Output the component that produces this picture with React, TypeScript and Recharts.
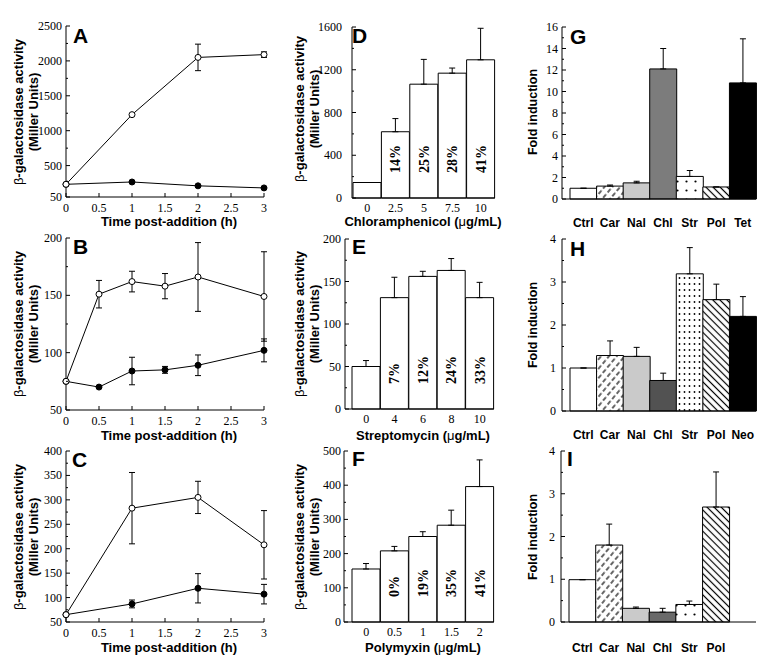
import React from 'react';
import { LineChart, Line, BarChart, Bar, XAxis, YAxis, ErrorBar, Cell, LabelList } from 'recharts';

// ---- A-C: time course (open = induced, filled = control) ----
const timeTicks = [0, 0.5, 1, 1.5, 2, 2.5, 3];

const timeA = [0, 1, 2, 3];
const aOpen = [232, 1230, 2050, 2090];
const aOpenErr = [0, 0, 190, 40];
const aFilled = [232, 265, 210, 180];
const aFilledErr = [0, 0, 0, 0];

const timeB = [0, 0.5, 1, 1.5, 2, 3];
const bOpen = [75, 151, 162, 158, 166, 149];
const bOpenErr = [0, 12, 9, 11, 30, 39];
const bFilled = [75, 70, 84, 85, 89, 102];
const bFilledErr = [0, 0, 12, 3, 9, 10];

const timeC = [0, 1, 2, 3];
const cOpen = [65, 283, 305, 208];
const cOpenErr = [0, 73, 33, 70];
const cFilled = [65, 87, 119, 107];
const cFilledErr = [0, 8, 30, 20];

// ---- D-F: dose response ----
const chlDose = ['0', '2.5', '5', '7.5', '10'];
const chlActivity = [145, 620, 1065, 1168, 1293];
const chlErr = [0, 123, 232, 48, 295];
const chlPct = ['', '14%', '25%', '28%', '41%'];

const strDose = ['0', '4', '6', '8', '10'];
const strActivity = [50, 131, 156, 163, 131];
const strErr = [7, 24, 6, 14, 18];
const strPct = ['', '7%', '12%', '24%', '33%'];

const polDose = ['0', '0.5', '1', '1.5', '2'];
const polActivity = [155, 208, 250, 283, 396];
const polErr = [16, 13, 14, 44, 78];
const polPct = ['', '0%', '19%', '35%', '41%'];

// ---- G-I: fold induction ----
const gDrugs = ['Ctrl', 'Car', 'Nal', 'Chl', 'Str', 'Pol', 'Tet'];
const gFold = [1.0, 1.2, 1.5, 12.1, 2.1, 1.12, 10.8];
const gErr = [0, 0.1, 0.15, 1.9, 0.55, 0, 4.1];

const hDrugs = ['Ctrl', 'Car', 'Nal', 'Chl', 'Str', 'Pol', 'Neo'];
const hFold = [1.0, 1.29, 1.27, 0.71, 3.19, 2.59, 2.2];
const hErr = [0, 0.34, 0.21, 0.17, 0.61, 0.36, 0.46];

const iDrugs = ['Ctrl', 'Car', 'Nal', 'Chl', 'Str', 'Pol', ''];
const iFold = [0.99, 1.8, 0.32, 0.23, 0.41, 2.69, null];
const iErr = [0, 0.49, 0.03, 0.09, 0.08, 0.82, null];

const fillsG: Record<string, string> = {
  Ctrl: '#fff', Car: 'url(#pCar)', Nal: '#cacaca', Chl: '#7c7c7c', Str: 'url(#pStr)', Pol: 'url(#pPol)', Tet: '#000',
};
const fillsH: Record<string, string> = {
  Ctrl: '#fff', Car: 'url(#pCar)', Nal: '#cacaca', Chl: '#525252', Str: 'url(#pStrDense)', Pol: 'url(#pPol)', Neo: '#000',
};
const fillsI: Record<string, string> = {
  Ctrl: '#fff', Car: 'url(#pCar)', Nal: '#cacaca', Chl: '#6a6a6a', Str: 'url(#pStr)', Pol: 'url(#pPol)', '': '#fff',
};

const SERIF = 'Liberation Serif, Times New Roman, serif';
const SANS = 'Liberation Sans, Arial, sans-serif';

const LM = 60, TM = 12, RM = 8, XH = 40;

type Box = { l: number; r: number; t: number; b: number };

function frame(box: Box) {
  return {
    style: { position: 'absolute' as const, left: box.l - LM, top: box.t - TM },
    width: box.r - box.l + LM + RM,
    height: box.b - box.t + TM + XH,
  };
}

function withMinors(majors: number[]) {
  const out: number[] = [];
  majors.forEach((m, i) => {
    out.push(m);
    if (i < majors.length - 1) out.push((m + majors[i + 1]) / 2);
  });
  return out;
}

function yTick(majors: number[], gap: number) {
  return (props: any) => {
    const { x, y, payload } = props;
    const major = majors.includes(payload.value);
    return (
      <g>
        <line x1={x} x2={x + (major ? 4 : 2)} y1={y} y2={y} stroke="#000" />
        {major && (
          <text x={x - gap} y={y + 4} textAnchor="end" fontFamily={SERIF} fontSize={12} fill="#000">
            {payload.value}
          </text>
        )}
      </g>
    );
  };
}

const timeTick = (props: any) => {
  const { x, y, payload } = props;
  return (
    <g>
      <line x1={x} x2={x} y1={y} y2={y - 4} stroke="#000" />
      <text x={x} y={y + 15} textAnchor="middle" fontFamily={SERIF} fontSize={12} fill="#000">
        {payload.value}
      </text>
    </g>
  );
};

const doseTick = (props: any) => {
  const { x, y, payload } = props;
  return (
    <text x={x} y={y + 14} textAnchor="middle" fontFamily={SERIF} fontSize={12} fill="#000">
      {payload.value}
    </text>
  );
};

function drugTick(off: number) {
  return (props: any) => {
    const { x, y, payload } = props;
    return (
      <text x={x} y={y + off} textAnchor="middle" fontFamily={SANS} fontWeight="bold" fontSize={12} fill="#000">
        {payload.value}
      </text>
    );
  };
}

const pctLabel = (props: any) => {
  const { x, y, width, height, value } = props;
  if (!value) return null;
  const cx = Number(x) + Number(width) / 2;
  const by = Number(y) + Number(height) - 25;
  return (
    <text
      x={cx}
      y={by + 5}
      transform={`rotate(-90 ${cx} ${by})`}
      textAnchor="start"
      fontFamily={SERIF}
      fontWeight="bold"
      fontSize={14}
      fill="#000"
    >
      {value}
    </text>
  );
};

function TimePanel(p: {
  box: Box; time: number[]; open: number[]; openErr: number[]; filled: number[]; filledErr: number[];
  domain: [number, number]; majors: number[];
}) {
  const rows = p.time.map((t, i) => ({
    t, open: p.open[i], openErr: p.openErr[i], filled: p.filled[i], filledErr: p.filledErr[i],
  }));
  const f = frame(p.box);
  return (
    <div style={f.style}>
      <LineChart width={f.width} height={f.height} data={rows} margin={{ top: TM, right: RM, left: 0, bottom: 0 }}>
        <XAxis type="number" dataKey="t" domain={[0, 3]} ticks={timeTicks} interval={0} tick={timeTick}
          tickLine={false} tickSize={0} tickMargin={0} axisLine={{ stroke: '#000' }} height={XH} />
        <YAxis type="number" domain={p.domain} ticks={withMinors(p.majors)} interval={0} tick={yTick(p.majors, 4)}
          tickLine={false} tickSize={0} tickMargin={0} axisLine={{ stroke: '#000' }} width={LM} />
        <Line dataKey="filled" type="linear" stroke="#000" strokeWidth={1} isAnimationActive={false}
          dot={{ r: 3, fill: '#000', stroke: '#000', strokeWidth: 1 }}>
          <ErrorBar dataKey="filledErr" direction="y" width={3} stroke="#000" strokeWidth={1} />
        </Line>
        <Line dataKey="open" type="linear" stroke="#000" strokeWidth={1} isAnimationActive={false}
          dot={{ r: 3, fill: '#fff', stroke: '#000', strokeWidth: 1 }}>
          <ErrorBar dataKey="openErr" direction="y" width={3} stroke="#000" strokeWidth={1} />
        </Line>
      </LineChart>
    </div>
  );
}

function DosePanel(p: {
  box: Box; doses: string[]; values: number[]; errs: number[]; pcts: string[];
  domain: [number, number]; majors: number[]; padLeft: number; gap: number;
}) {
  const rows = p.doses.map((d, i) => ({ name: d, v: p.values[i], err: [0, p.errs[i]], pct: p.pcts[i] }));
  const f = frame(p.box);
  return (
    <div style={f.style}>
      <BarChart width={f.width} height={f.height} data={rows} barCategoryGap={0}
        margin={{ top: TM, right: RM, left: 0, bottom: 0 }}>
        <XAxis dataKey="name" type="category" interval={0} tick={doseTick} tickLine={false} tickSize={0}
          tickMargin={0} axisLine={{ stroke: '#000' }} padding={{ left: p.padLeft, right: 0 }} height={XH} />
        <YAxis type="number" domain={p.domain} ticks={withMinors(p.majors)} interval={0} tick={yTick(p.majors, p.gap)}
          tickLine={false} tickSize={0} tickMargin={0} axisLine={{ stroke: '#000' }} width={LM} />
        <Bar dataKey="v" fill="#fff" stroke="#000" strokeWidth={1} isAnimationActive={false}>
          <ErrorBar dataKey="err" direction="y" width={3} stroke="#000" strokeWidth={1} />
          <LabelList dataKey="pct" content={pctLabel} />
        </Bar>
      </BarChart>
    </div>
  );
}

function DrugPanel(p: {
  box: Box; drugs: string[]; values: (number | null)[]; errs: (number | null)[]; fills: Record<string, string>;
  domain: [number, number]; majors: number[]; gap: number; labelOff: number;
}) {
  const rows = p.drugs.map((d, i) => ({
    name: d, v: p.values[i], err: p.errs[i] == null ? null : [0, p.errs[i]],
  }));
  const f = frame(p.box);
  return (
    <div style={f.style}>
      <BarChart width={f.width} height={f.height} data={rows} barCategoryGap={0}
        margin={{ top: TM, right: RM, left: 0, bottom: 0 }}>
        <XAxis dataKey="name" type="category" interval={0} tick={drugTick(p.labelOff)} tickLine={false} tickSize={0}
          tickMargin={0} axisLine={{ stroke: '#000' }} padding={{ left: 8, right: 0 }} height={XH} />
        <YAxis type="number" domain={p.domain} ticks={withMinors(p.majors)} interval={0} tick={yTick(p.majors, p.gap)}
          tickLine={false} tickSize={0} tickMargin={0} axisLine={{ stroke: '#000' }} width={LM} />
        <Bar dataKey="v" stroke="#000" strokeWidth={1} isAnimationActive={false}>
          {rows.map((r, i) => (
            <Cell key={i} fill={p.fills[r.name]} />
          ))}
          <ErrorBar dataKey="err" direction="y" width={3} stroke="#000" strokeWidth={1} />
        </Bar>
      </BarChart>
    </div>
  );
}

const boxA = { l: 66, r: 264, t: 26, b: 197 };
const boxB = { l: 66, r: 264, t: 238, b: 410 };
const boxC = { l: 66, r: 264, t: 451, b: 622 };
const boxD = { l: 352, r: 495, t: 27, b: 198 };
const boxE = { l: 345, r: 494, t: 239, b: 409 };
const boxF = { l: 344, r: 494, t: 451, b: 622 };
const boxG = { l: 562, r: 756, t: 27, b: 199 };
const boxH = { l: 562, r: 756, t: 239, b: 411 };
const boxI = { l: 561, r: 756, t: 451, b: 622 };

function YTitle2({ x, y }: { x: number; y: number }) {
  return (
    <g fontFamily={SANS} fontWeight="bold" fontSize={13} fill="#000">
      <text transform={`translate(${x},${y}) rotate(-90)`} textAnchor="middle">
        <tspan fontWeight="normal">β</tspan>-galactosidase activity
      </text>
      <text transform={`translate(${x + 15},${y}) rotate(-90)`} textAnchor="middle">(Miller Units)</text>
    </g>
  );
}

function Letter({ x, y, c }: { x: number; y: number; c: string }) {
  return (
    <text x={x} y={y} fontFamily={SANS} fontWeight="bold" fontSize={21} fill="#000">{c}</text>
  );
}

function XTitle({ x, y, children }: { x: number; y: number; children: React.ReactNode }) {
  return (
    <text x={x} y={y} textAnchor="middle" fontFamily={SANS} fontWeight="bold" fontSize={13} fill="#000">{children}</text>
  );
}

export default function App() {
  return (
    <div style={{ position: 'absolute', left: 0, top: 0, width: 776, height: 669, background: '#fff', overflow: 'hidden' }}>
      <TimePanel box={boxA} time={timeA} open={aOpen} openErr={aOpenErr} filled={aFilled} filledErr={aFilledErr}
        domain={[50, 2500]} majors={[50, 500, 1000, 1500, 2000, 2500]} />
      <TimePanel box={boxB} time={timeB} open={bOpen} openErr={bOpenErr} filled={bFilled} filledErr={bFilledErr}
        domain={[50, 200]} majors={[50, 100, 150, 200]} />
      <TimePanel box={boxC} time={timeC} open={cOpen} openErr={cOpenErr} filled={cFilled} filledErr={cFilledErr}
        domain={[50, 400]} majors={[50, 100, 150, 200, 250, 300, 350, 400]} />

      <DosePanel box={boxD} doses={chlDose} values={chlActivity} errs={chlErr} pcts={chlPct}
        domain={[0, 1600]} majors={[0, 400, 800, 1200, 1600]} padLeft={1} gap={10} />
      <DosePanel box={boxE} doses={strDose} values={strActivity} errs={strErr} pcts={strPct}
        domain={[0, 200]} majors={[0, 50, 100, 150, 200]} padLeft={7} gap={4} />
      <DosePanel box={boxF} doses={polDose} values={polActivity} errs={polErr} pcts={polPct}
        domain={[0, 500]} majors={[0, 100, 200, 300, 400, 500]} padLeft={8} gap={3} />

      <DrugPanel box={boxG} drugs={gDrugs} values={gFold} errs={gErr} fills={fillsG}
        domain={[0, 16]} majors={[0, 2, 4, 6, 8, 10, 12, 14, 16]} gap={4} labelOff={28} />
      <DrugPanel box={boxH} drugs={hDrugs} values={hFold} errs={hErr} fills={fillsH}
        domain={[0, 4]} majors={[0, 1, 2, 3, 4]} gap={6} labelOff={28} />
      <DrugPanel box={boxI} drugs={iDrugs} values={iFold} errs={iErr} fills={fillsI}
        domain={[0, 4]} majors={[0, 1, 2, 3, 4]} gap={6} labelOff={30} />

      <svg width={776} height={669} style={{ position: 'absolute', left: 0, top: 0, pointerEvents: 'none' }}>
        <defs>
          <pattern id="pCar" width={6} height={7} patternUnits="userSpaceOnUse" patternTransform="rotate(40)">
            <rect width={6} height={7} fill="#fff" />
            <line x1={3} y1={0.5} x2={3} y2={5} stroke="#000" strokeWidth={1.2} />
          </pattern>
          <pattern id="pPol" width={5} height={5} patternUnits="userSpaceOnUse" patternTransform="rotate(-45)">
            <rect width={5} height={5} fill="#fff" />
            <line x1={2.5} y1={0} x2={2.5} y2={5} stroke="#000" strokeWidth={1.2} />
          </pattern>
          <pattern id="pStr" width={9} height={9} patternUnits="userSpaceOnUse">
            <rect width={9} height={9} fill="#fff" />
            <circle cx={4.5} cy={4.5} r={1.1} fill="#000" />
          </pattern>
          <pattern id="pStrDense" width={5} height={6} patternUnits="userSpaceOnUse">
            <rect width={5} height={6} fill="#fff" />
            <circle cx={2.5} cy={3} r={0.9} fill="#000" />
          </pattern>
        </defs>

        <Letter x={73} y={43} c="A" />
        <Letter x={73} y={254} c="B" />
        <Letter x={72} y={467} c="C" />
        <Letter x={352} y={43} c="D" />
        <Letter x={352} y={254} c="E" />
        <Letter x={352} y={466} c="F" />
        <Letter x={570} y={44} c="G" />
        <Letter x={570} y={256} c="H" />
        <Letter x={567} y={466} c="I" />

        <YTitle2 x={23} y={112} />
        <YTitle2 x={23} y={324} />
        <YTitle2 x={23} y={537} />
        <YTitle2 x={304} y={109} />
        <YTitle2 x={304} y={324} />
        <YTitle2 x={304} y={537} />

        <g fontFamily={SANS} fontWeight="bold" fontSize={12.5} fill="#000">
          <text transform="translate(537,112) rotate(-90)" textAnchor="middle">Fold induction</text>
          <text transform="translate(537,325) rotate(-90)" textAnchor="middle">Fold induction</text>
          <text transform="translate(537,537) rotate(-90)" textAnchor="middle">Fold induction</text>
        </g>

        <XTitle x={169} y={226}>Time post-addition (h)</XTitle>
        <XTitle x={169} y={440}>Time post-addition (h)</XTitle>
        <XTitle x={169} y={652}>Time post-addition (h)</XTitle>
        <XTitle x={423} y={226}>Chloramphenicol (<tspan fontWeight="normal">μ</tspan>g/mL)</XTitle>
        <XTitle x={423} y={440}>Streptomycin (<tspan fontWeight="normal">μ</tspan>g/mL)</XTitle>
        <XTitle x={423} y={652}>Polymyxin (<tspan fontWeight="normal">μ</tspan>g/mL)</XTitle>
      </svg>
    </div>
  );
}
